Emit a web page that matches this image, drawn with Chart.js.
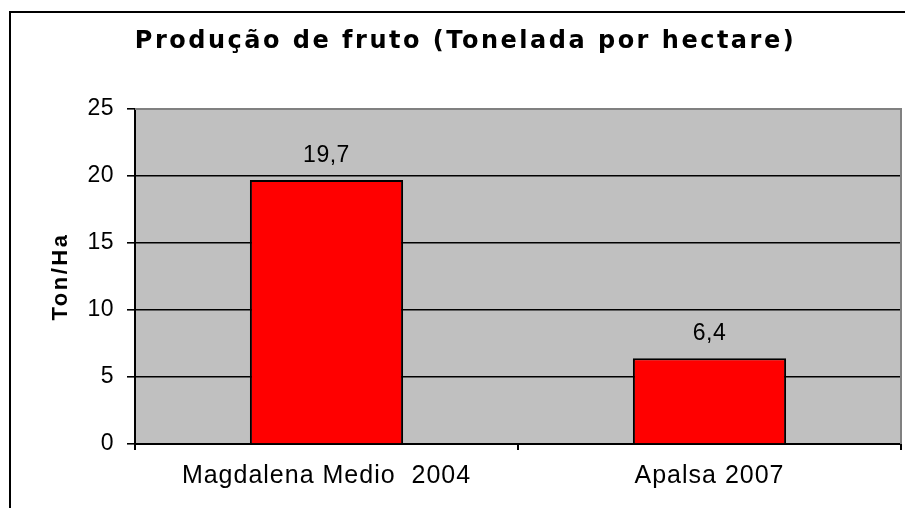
<!DOCTYPE html>
<html>
<head>
<meta charset="utf-8">
<script src="https://cdn.jsdelivr.net/npm/chart.js@4/dist/chart.umd.min.js"></script>
<style>
    body { margin: 0; background: #fff; }
    #wrap { width: 905px; height: 508px; }
</style>
</head>
<body>
<div id="wrap"><canvas id="prodChart" width="905" height="508"></canvas></div>
<script>
const categories = ['Magdalena Medio  2004', 'Apalsa 2007'];
const production = [19.7, 6.4];
const yMin = 0;
const yMax = 25;
const yStep = 5;
const chartTitle = 'Produção de fruto (Tonelada por hectare)';
const yTitle = 'Ton/Ha';

const labelFont = "'Liberation Sans', Arial, sans-serif";

// envolve o desenho de um bloco com um espaçamento de letras próprio
function withSpacing(obj, method, spacing, shiftX) {
    if (obj['_sp_' + method]) return;
    const orig = obj[method];
    obj[method] = function (...args) {
        const c = this.ctx;
        c.save();
        c.letterSpacing = spacing;
        if (shiftX) c.translate(shiftX, 0);
        orig.apply(this, args);
        c.restore();
    };
    obj['_sp_' + method] = true;
}

// fundo branco, moldura e área cinza do gráfico
const framePlugin = {
    id: 'frame',
    afterLayout(chart) {
        if (chart.titleBlock) withSpacing(chart.titleBlock, 'draw', '2.5px', 15);
        withSpacing(chart.scales.x, 'drawLabels', '1px');
        withSpacing(chart.scales.y, 'drawLabels', '0.5px');
    },
    beforeDraw(chart) {
        const ctx = chart.ctx;
        const a = chart.chartArea;
        ctx.save();
        ctx.fillStyle = '#ffffff';
        ctx.fillRect(0, 0, chart.width, chart.height);
        ctx.fillStyle = '#c0c0c0';
        ctx.fillRect(a.left, a.top, a.right - a.left, a.bottom - a.top);
        ctx.strokeStyle = '#000';
        ctx.lineWidth = 2;
        ctx.beginPath();
        ctx.moveTo(10, chart.height);
        ctx.lineTo(10, 12);
        ctx.lineTo(chart.width, 12);
        ctx.stroke();
        ctx.restore();
    },
    beforeDatasetsDraw(chart) {
        const ctx = chart.ctx;
        const a = chart.chartArea;
        ctx.save();
        ctx.strokeStyle = '#808080';
        ctx.lineWidth = 2;
        ctx.beginPath();
        ctx.moveTo(a.left, a.top);
        ctx.lineTo(a.right, a.top);
        ctx.lineTo(a.right, a.bottom);
        ctx.stroke();
        ctx.restore();
    }
};

// rótulos de valor acima das barras
const valueLabels = {
    id: 'valueLabels',
    afterDatasetsDraw(chart) {
        const ctx = chart.ctx;
        const meta = chart.getDatasetMeta(0);
        ctx.save();
        ctx.letterSpacing = '0.5px';
        ctx.font = '23px ' + labelFont;
        ctx.fillStyle = '#000';
        ctx.textAlign = 'center';
        ctx.textBaseline = 'alphabetic';
        meta.data.forEach((bar, i) => {
            const txt = production[i].toFixed(1).replace('.', ',');
            ctx.fillText(txt, bar.x, bar.y - 18);
        });
        ctx.restore();
    }
};

function initChart() {
    const ctx = document.getElementById('prodChart').getContext('2d');

    new Chart(ctx, {
        type: 'bar',
        data: {
            labels: categories,
            datasets: [{
                data: production,
                backgroundColor: '#ff0000',
                borderColor: '#000000',
                borderWidth: 2,
                barPercentage: 0.4,
                categoryPercentage: 1
            }]
        },
        options: {
            responsive: false,
            animation: false,
            layout: { padding: { left: 0, right: 4, top: 0, bottom: 0 } },
            plugins: {
                legend: { display: false },
                tooltip: { enabled: false },
                title: {
                    display: true,
                    text: chartTitle,
                    color: '#000',
                    font: { family: "'DejaVu Sans', Verdana, sans-serif", size: 24, weight: 'bold', lineHeight: 1.2 },
                    padding: { top: 27, bottom: 53.2 }
                }
            },
            scales: {
                x: {
                    offset: true,
                    grid: {
                        display: true,
                        drawOnChartArea: false,
                        color: '#000',
                        lineWidth: 2,
                        tickLength: 6
                    },
                    border: { color: '#000', width: 2 },
                    ticks: {
                        color: '#000',
                        font: { family: labelFont, size: 25 },
                        padding: 11,
                        maxRotation: 0
                    },
                    afterFit(scale) { scale.height = 64; }
                },
                y: {
                    min: yMin,
                    max: yMax,
                    ticks: {
                        stepSize: yStep,
                        color: '#000',
                        font: { family: labelFont, size: 23 },
                        padding: 13
                    },
                    grid: {
                        color: (c) => (c.tick && c.tick.value === yMax) ? 'rgba(0,0,0,0)' : '#000',
                        tickColor: '#000',
                        lineWidth: 1.6,
                        tickLength: 8
                    },
                    border: { color: '#000', width: 2 },
                    title: {
                        display: true,
                        text: yTitle,
                        color: '#000',
                        font: { family: labelFont, size: 22, weight: 'bold', lineHeight: 1.2 },
                        padding: { top: 48, bottom: 0 }
                    },
                    afterFit(scale) {
                        scale.width = 135;
                        withSpacing(scale, 'drawTitle', '2.5px');
                    }
                }
            }
        },
        plugins: [framePlugin, valueLabels]
    });
}

document.addEventListener('DOMContentLoaded', initChart);
</script>
</body>
</html>
